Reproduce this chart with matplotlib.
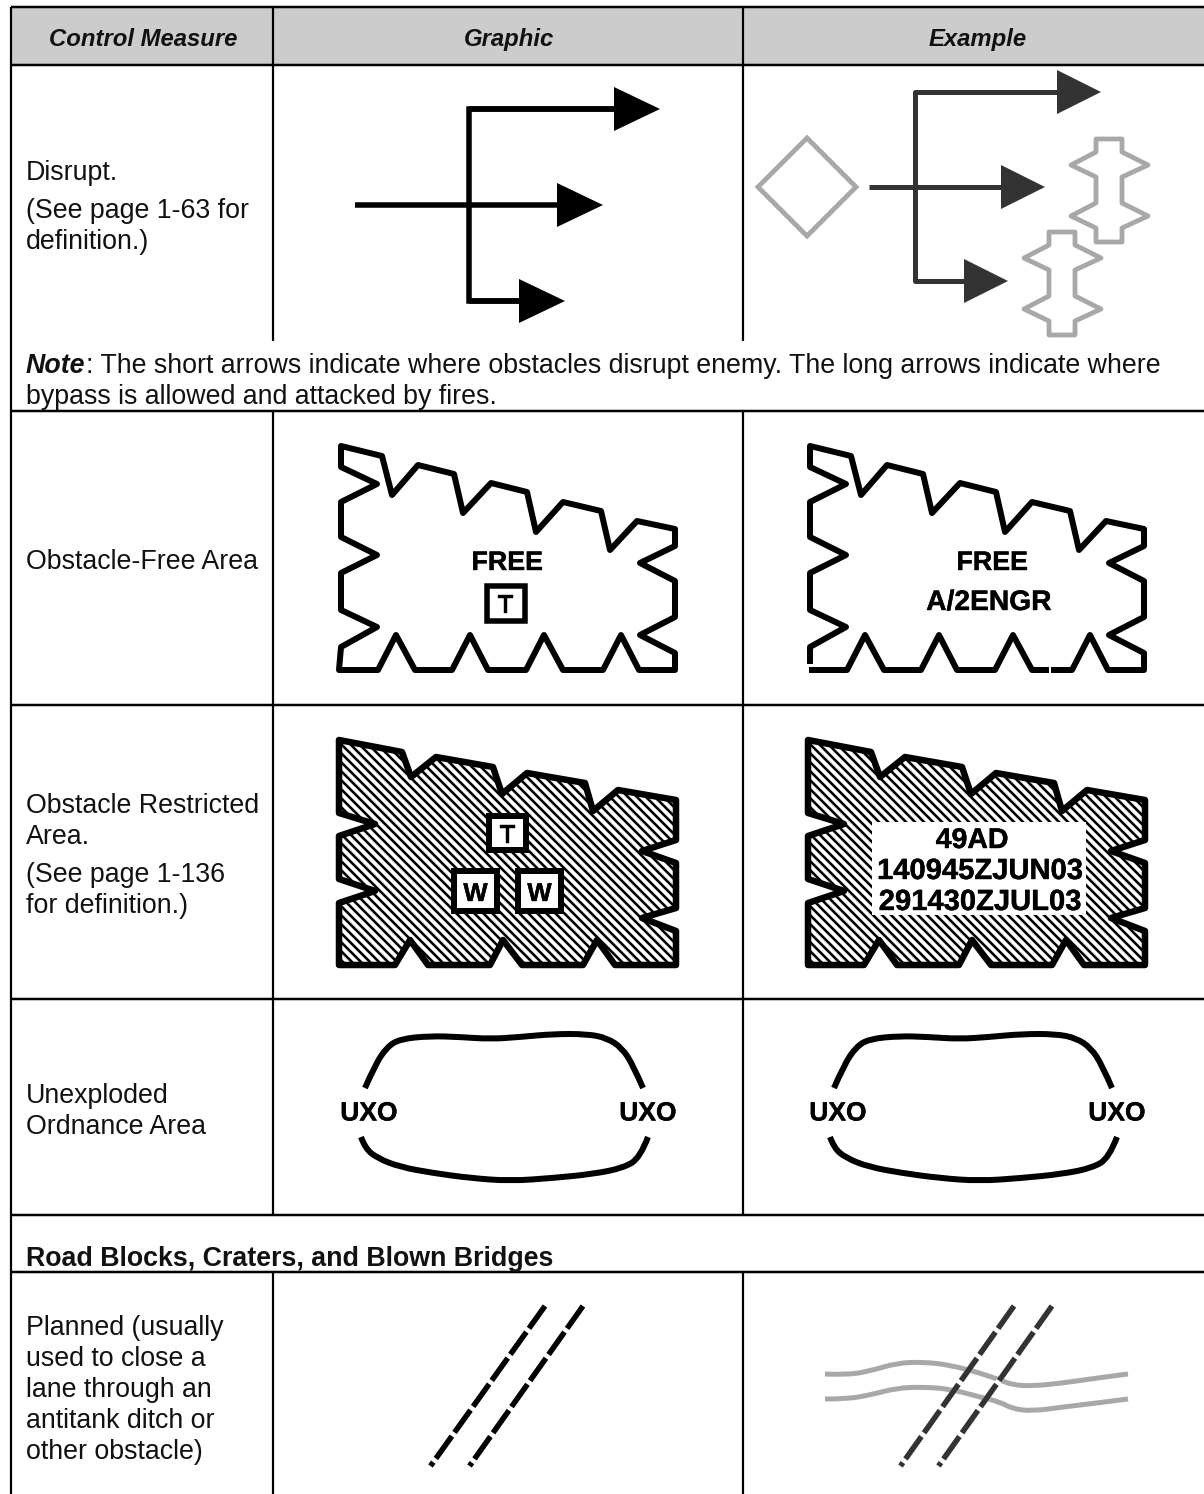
import numpy as np
import matplotlib
matplotlib.use("Agg")
import matplotlib.pyplot as plt
import matplotlib.patheffects as pe
from matplotlib.patches import Polygon, Rectangle, PathPatch
from matplotlib.path import Path
from matplotlib.collections import LineCollection

plt.rcParams['font.family'] = ['Liberation Sans', 'DejaVu Sans']
plt.rcParams['lines.scale_dashes'] = False

# table text
headers = ["Control Measure", "Graphic", "Example"]
header_x = [143, 509, 978]
left_text = [
    ("Disrupt.", 180), ("(See page 1-63 for", 218), ("definition.)", 249),
    ("Obstacle-Free Area", 569),
    ("Obstacle Restricted", 813), ("Area.", 844), ("(See page 1-136", 882), ("for definition.)", 913),
    ("Unexploded", 1103), ("Ordnance Area", 1134),
    ("Planned (usually", 1335), ("used to close a", 1366), ("lane through an", 1397),
    ("antitank ditch or", 1428), ("other obstacle)", 1459),
]
note_1 = ": The short arrows indicate where obstacles disrupt enemy. The long arrows indicate where"
note_2 = "bypass is allowed and attacked by fires."
section = "Road Blocks, Craters, and Blown Bridges"

# table rules, in pixels of the page
rows_y = [7, 65, 411, 705, 999, 1215, 1272]
cols_x = [11, 273, 743]

# outlines
free_outline = [(341,446),(382,456),(392,495),(418,465),(454,474),(463,513),(491,483),(527,492),
    (536,532),(563,502),(601,511),(610,550),(637,521),(675,529),(675,546),(640,563),(675,581),
    (675,617),(640,635),(675,653),(675,670),(639,670),(621,635),(603,670),(563,670),(544,635),
    (526,670),(488,670),(470,635),(452,670),(415,670),(396,635),(378,670),(339,670),(341,647),
    (377,627),(341,610),(341,573),(377,555),(341,537),(341,502),(377,484),(341,467)]
restricted_outline = [(339,740),(402,752),(411,777),(436,757),(493,767),(502,794),(527,773),
    (585,783),(593,811),(618,790),(676,800),(676,840),(642,851),(676,863),(676,908),(642,918),
    (676,931),(676,965),(615,965),(597,940),(583,965),(522,965),(503,940),(490,965),(428,965),
    (410,940),(395,965),(339,965),(339,903),(375,891),(339,879),(339,836),(375,824),(339,813)]
uxo_top = [(365,1088),(375,1065),(387,1047),(400,1039),(430,1036),(460,1037),(490,1039),(520,1037),
    (553,1034),(587,1034),(607,1038),(622,1048),(633,1065),(643,1088)]
uxo_bottom = [(361,1137),(365,1148),(377,1158),(400,1167),(433,1173),(470,1178),(510,1181),
    (553,1178),(593,1174),(623,1168),(640,1158),(648,1137)]
river_top = [(825,1374),(847,1375),(870,1371),(897,1363),(923,1362),(950,1365),(980,1373),
    (1000,1380),(1013,1385),(1033,1386),(1063,1383),(1097,1378),(1128,1374)]
river_low = [(825,1399),(847,1399),(870,1395),(897,1388),(923,1387),(950,1389),(980,1397),
    (1000,1402),(1013,1409),(1033,1411),(1063,1407),(1097,1403),(1128,1399)]
block_shape = [(1096,139),(1122,139),(1122,152),(1148,165),(1122,177),(1122,203),(1148,216),
    (1122,228),(1122,242),(1096,242),(1096,228),(1071,216),(1096,203),(1096,177),(1071,165),(1096,152)]
diamond = [(758,187),(807,138),(856,187),(807,236)]
planned_a = [(545,1306),(430.5,1466)]
planned_b = [(583,1306),(469.5,1466)]
planned_c = [(1014,1306),(900.5,1466)]
planned_d = [(1052,1306),(938.5,1466)]
example_shift = 469
DARK = "#333333"
GREY = "#a8a8a8"
FS = 19.25
HEAVY = [pe.withStroke(linewidth=0.3, foreground="black")]

fig = plt.figure(figsize=(12.04, 14.94), dpi=100)
ax = fig.add_axes([0, 0, 1, 1])
ax.set_xlim(0, 1204)
ax.set_ylim(1494, 0)
ax.axis("off")

def px(w):
    return w * 0.72

def label(x, y, s, fs, z=5):
    ax.text(x, y, s, fontsize=fs, fontweight="bold", ha="center", va="center_baseline",
            zorder=z, path_effects=HEAVY)

def smooth(pts, lw, color="black"):
    # quadratic spline through the midpoints of the read points
    p = np.array(pts, float)
    verts = [p[0]]
    codes = [Path.MOVETO]
    for i in range(1, len(p) - 1):
        end = p[i + 1] if i == len(p) - 2 else (p[i] + p[i + 1]) / 2
        verts += [p[i], end]
        codes += [Path.CURVE3, Path.CURVE3]
    ax.add_patch(PathPatch(Path(verts, codes), fc="none", ec=color, lw=px(lw), capstyle="butt"))

def arrow(x0, x1, y, color, lw, head=46, half=22):
    ax.plot([x0, x1], [y, y], color=color, lw=px(lw), solid_capstyle="butt")
    ax.add_patch(Polygon([(x1, y - half), (x1 + head, y), (x1, y + half)], fc=color, ec="none"))

def box(x0, y0, x1, y1, s, lw, fs):
    ax.add_patch(Rectangle((x0, y0), x1 - x0, y1 - y0, fc="white", ec="black", lw=px(lw), joinstyle="miter", zorder=4))
    label((x0 + x1) / 2, (y0 + y1) / 2 + 0.5, s, fs)

def dashed(pts, color):
    xs, ys = zip(*pts)
    ax.plot(xs, ys, color="white", lw=px(5.5), solid_capstyle="butt", zorder=2)
    ax.plot(xs, ys, color=color, lw=px(5.5), linestyle=(0, (px(27.5), px(4.5))), dash_capstyle="butt", zorder=3)

def hatched(outline):
    poly = Polygon(outline, closed=True, fc="white", ec="none", zorder=1)
    ax.add_patch(poly)
    xs, ys = zip(*outline)
    starts = np.arange(min(xs) - (max(ys) - min(ys)) - 20, max(xs) + 20, 9.0)
    segs = [[(s, min(ys)), (s + max(ys) - min(ys), max(ys))] for s in starts]
    lc = LineCollection(segs, colors="black", linewidths=px(2.6), zorder=2)
    ax.add_collection(lc)
    lc.set_clip_path(poly)
    ax.add_patch(Polygon(outline, closed=True, fc="none", ec="black", lw=px(6.5), joinstyle="round", zorder=3))

# header band and table rules
ax.add_patch(Rectangle((11, 7), 1193, 58, fc="#cccccc", ec="none", zorder=0))
for y in rows_y:
    ax.plot([11, 1204], [y, y], color="black", lw=px(2.5), solid_capstyle="butt")
ax.plot([11, 11], [7, 1494], color="black", lw=px(2.2), solid_capstyle="butt")
for x in cols_x[1:]:
    ax.plot([x, x], [7, 341], color="black", lw=px(2.2), solid_capstyle="butt")
    ax.plot([x, x], [411, 1215], color="black", lw=px(2.2), solid_capstyle="butt")
    ax.plot([x, x], [1272, 1494], color="black", lw=px(2.2), solid_capstyle="butt")

# text
for s, x in zip(headers, header_x):
    ax.text(x, 46, s, fontsize=17.2, fontweight="bold", fontstyle="italic", ha="center", va="baseline", color="#111111")
for s, y in left_text:
    ax.text(26, y, s, fontsize=FS, ha="left", va="baseline", color="#111111")
note = ax.text(26, 373, "Note", fontsize=FS, fontweight="bold", fontstyle="italic", va="baseline", color="#111111")
fig.canvas.draw()
note_end = ax.transData.inverted().transform(note.get_window_extent().get_points())[1][0]
ax.text(note_end, 373, note_1, fontsize=FS, va="baseline", color="#111111")
ax.text(26, 404, note_2, fontsize=FS, va="baseline", color="#111111")
ax.text(26, 1266, section, fontsize=FS, fontweight="bold", va="baseline", color="#111111")

# disrupt, graphic
ax.plot([614, 469, 469, 519], [109, 109, 301, 301], color="black", lw=px(5.5), solid_joinstyle="miter", solid_capstyle="butt")
arrow(469, 614, 109, "black", 5.5)
arrow(355, 557, 205, "black", 5.5)
arrow(469, 519, 301, "black", 5.5)

# disrupt, example
ax.plot([1057, 915, 915, 964], [92, 92, 281, 281], color=DARK, lw=px(5), solid_joinstyle="round", solid_capstyle="butt")
arrow(915, 1057, 92, DARK, 5, 44, 22)
arrow(869, 1001, 187, DARK, 5, 44, 22)
arrow(915, 964, 281, DARK, 5, 44, 22)
ax.add_patch(Polygon(diamond, closed=True, fc="none", ec=GREY, lw=px(4.8), joinstyle="miter"))
ax.add_patch(Polygon(block_shape, closed=True, fc="none", ec=GREY, lw=px(4.8), joinstyle="round"))
ax.add_patch(Polygon([(x - 47, y + 93) for x, y in block_shape], closed=True, fc="none", ec=GREY, lw=px(4.8), joinstyle="round"))

# obstacle-free area
ax.add_patch(Polygon(free_outline, closed=True, fc="none", ec="black", lw=px(6), joinstyle="round"))
label(507, 560, "FREE", 19.3)
box(486.5, 585.5, 524.5, 620.5, "T", 5.5, 19)

i_a = free_outline.index((603, 670))
i_c = free_outline.index((339, 670))
seg_1 = [(341, 664)] + free_outline[i_c + 1:] + free_outline[:i_a + 1] + [(582, 670)]
seg_2 = [(580, 670)] + free_outline[i_a + 1:i_c] + [(340, 670)]
for seg in (seg_1, seg_2):
    xs = [p[0] + example_shift for p in seg]
    ys = [p[1] for p in seg]
    ax.plot(xs, ys, color="black", lw=px(6), solid_joinstyle="round", solid_capstyle="butt")
label(992, 560, "FREE", 19.3)
label(989, 600, "A/2ENGR", 20.3)

# obstacle restricted area
hatched(restricted_outline)
box(489, 816, 526, 850, "T", 6, 19)
box(454, 871, 497, 911, "W", 6, 18.5)
box(518, 871, 561, 911, "W", 6, 18.5)

hatched([(x + example_shift, y) for x, y in restricted_outline])
ax.add_patch(Rectangle((872, 822), 214, 93, fc="white", ec="none", zorder=4))
label(972, 838, "49AD", 20.5)
label(980, 868, "140945ZJUN03", 21)
label(980, 899, "291430ZJUL03", 21)

# unexploded ordnance area
for shift in (0, example_shift):
    smooth([(x + shift, y) for x, y in uxo_top], 6)
    smooth([(x + shift, y) for x, y in uxo_bottom], 6)
    label(369 + shift, 1111, "UXO", 19)
    label(648 + shift, 1111, "UXO", 19)

# planned road block
smooth(river_top, 5, GREY)
smooth(river_low, 5, GREY)
dashed(planned_a, "black")
dashed(planned_b, "black")
dashed(planned_c, DARK)
dashed(planned_d, DARK)

fig.savefig("out.png", dpi=100)
